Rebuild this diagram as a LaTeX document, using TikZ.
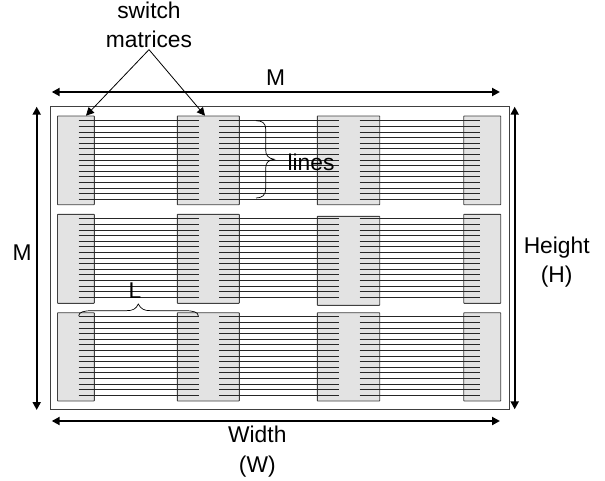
\documentclass[tikz,border=0pt]{standalone}
\usepackage{fontspec}
\setmainfont{Liberation Sans}
\usepackage{tikz}
\usetikzlibrary{arrows.meta}

\begin{document}
\begin{tikzpicture}[x=1pt, y=-1pt, >={Triangle[length=8pt,width=8pt]},
    lbl/.style={inner sep=0pt, align=center, font=\fontsize{22.8}{29.5}\selectfont},
    dimarrow/.style={<->, line width=2pt, color=black},
    swbox/.style={draw=black!75, line width=0.9pt, fill=black!11, rounded corners=0.5pt},
    wire/.style={line width=0.75pt, color=black!85}]

    \useasboundingbox (0, 0) rectangle (605, 480);

    % Outer frame
    \draw[line width=0.9pt, color=black!75] (50.7, 106) rectangle (509, 409.3);

    % Switch matrices, one row after another
    \foreach \rowtop/\rowbot/\midtop/\midbot in {116/204.7/116/204.7, 214.3/303.3/216.3/305.3, 312.7/401/312.7/401} {
        \filldraw[swbox] (57.5, \rowtop) rectangle (94.3, \rowbot);
        \filldraw[swbox] (177.3, \rowtop) rectangle (239.3, \rowbot);
        \filldraw[swbox] (317.3, \midtop) rectangle (379.7, \midbot);
        \filldraw[swbox] (463.7, \rowtop) rectangle (500.7, \rowbot);
    }

    % Wires
    \foreach \rowstart in {120.7, 218.7, 316.7} {
        \foreach \n in {0,...,14} {
            \pgfmathsetmacro{\yy}{\rowstart + 5.6*\n}
            \draw[wire] (78.7, \yy) -- (198.7, \yy);
            \draw[wire] (219.3, \yy) -- (339, \yy);
            \draw[wire] (359.7, \yy) -- (480, \yy);
        }
    }

    % Braces
    \draw[line width=0.7pt] (256, 120.7) .. controls (262, 120.7) and (265.7, 123) .. (265.7, 129) -- (265.7, 150)
        .. controls (265.7, 155) and (268, 158.5) .. (274.3, 159.3)
        .. controls (268, 160) and (265.7, 163) .. (265.7, 168) -- (265.7, 189)
        .. controls (265.7, 195) and (262, 198) .. (256, 198);
    \draw[line width=0.7pt] (78.7, 316) .. controls (78.7, 312) and (84, 310.7) .. (92, 310.7) -- (126, 310.7)
        .. controls (133, 310.7) and (136, 309) .. (138.3, 304)
        .. controls (141, 309) and (144, 310.7) .. (151, 310.7) -- (185, 310.7)
        .. controls (193, 310.7) and (198.3, 312) .. (198.3, 316);

    % Labels
    \node[lbl, anchor=center, outer ysep=1.5pt] (switchlbl) at (149, 25) {switch\\matrices};
    \node[lbl, anchor=base] (topM) at (275.7, 85) {M};
    \node[lbl, anchor=base] (leftM) at (22, 260) {M};
    \node[lbl, anchor=base] (linesl) at (311, 170) {lines};
    \node[lbl, anchor=base] (lenL) at (135, 298.3) {L};
    \node[lbl, anchor=center] (widthl) at (257.3, 451.5) {Width\\(W)};
    \node[lbl, anchor=center] (heightl) at (556.7, 262) {Height\\(H)};

    % Arrows
    \coordinate (swA) at (86, 115.7);
    \coordinate (swB) at (205, 115.7);
    \draw[->, line width=0.8pt] (switchlbl.south) -- (swA);
    \draw[->, line width=0.8pt] (switchlbl.south) -- (swB);
    \coordinate (mleft) at (51.7, 92);
    \coordinate (mright) at (500, 92);
    \draw[dimarrow] (mleft) -- (mright);
    \coordinate (wleft) at (51.7, 421);
    \coordinate (wright) at (500, 421);
    \draw[dimarrow] (wleft) -- (wright);
    \coordinate (vtop) at (36.7, 106.7);
    \coordinate (vbot) at (36.7, 410);
    \draw[dimarrow] (vtop) -- (vbot);
    \coordinate (htop) at (514.7, 106.7);
    \coordinate (hbot) at (514.7, 409.3);
    \draw[dimarrow] (htop) -- (hbot);

\end{tikzpicture}
\end{document}
